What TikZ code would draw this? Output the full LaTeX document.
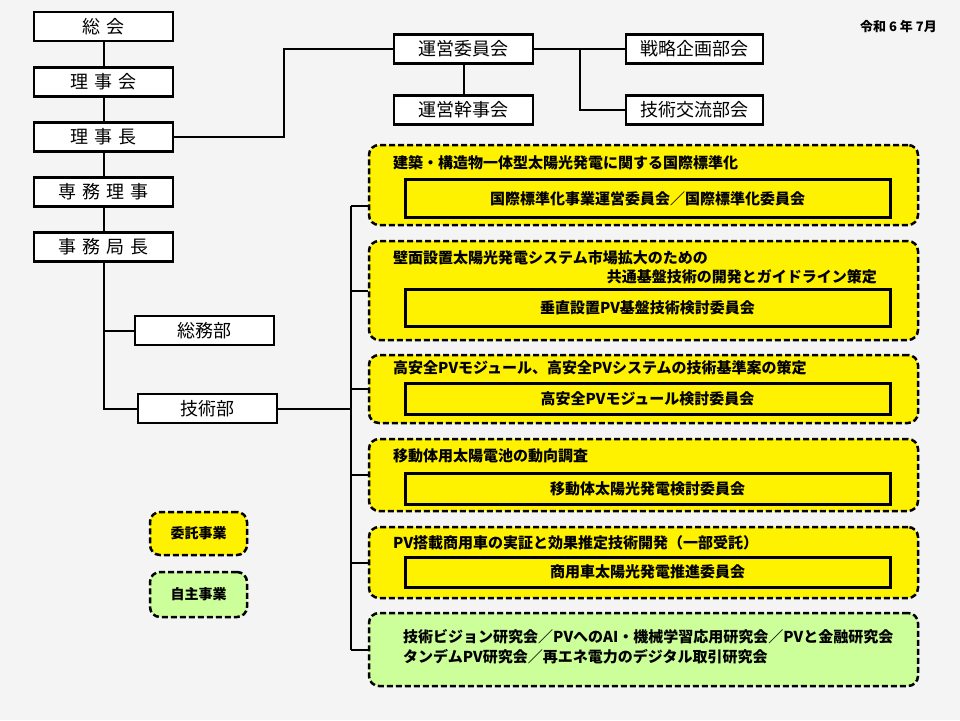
\documentclass[tikz,border=0pt]{standalone}
\usepackage{fontspec}
\setmainfont{Noto Sans CJK JP}
\definecolor{bggray}{RGB}{244,244,244}
\definecolor{selfgreen}{RGB}{204,255,153}
\newcommand{\kgap}{\hspace{6pt}}

\begin{document}
\begin{tikzpicture}[x=1pt, y=-1pt]
    \useasboundingbox (0,0) rectangle (960,720);
    \fill[bggray] (0,0) rectangle (960,720);

    % Define styles
    \tikzstyle{org}=[draw=black, line width=2.5pt, fill=white, minimum width=139pt, minimum height=29pt, inner sep=0pt, font=\fontsize{18}{20}\selectfont]
    \tikzstyle{itaku}=[draw=black, line width=2.5pt, dash pattern=on 6pt off 3pt, rounded corners=10pt, fill=yellow, minimum width=549pt, inner sep=0pt]
    \tikzstyle{jishu}=[itaku, fill=selfgreen]
    \tikzstyle{inbox}=[draw=black, line width=3pt, fill=yellow, minimum width=485pt, inner sep=0pt, font=\fontsize{15}{18}\selectfont\bfseries]
    \tikzstyle{title}=[inner sep=0pt, font=\fontsize{15}{18}\selectfont\bfseries]
    \tikzstyle{link}=[draw=black, line width=2pt]

    % left column
    \node[org] (soukai) at (103.5,26.5) {総\kgap 会};
    \node[org] (rijikai) at (103.5,82) {理\kgap 事\kgap 会};
    \node[org] (rijicho) at (103.5,137) {理\kgap 事\kgap 長};
    \node[org] (senmu) at (103.5,192) {専\kgap 務\kgap 理\kgap 事};
    \node[org] (kyokucho) at (103.5,247) {事\kgap 務\kgap 局\kgap 長};
    \node[org] (somu) at (204.5,330.5) {総務部};
    \node[org] (gijutsu) at (207.5,408.5) {技術部};

    % top committees
    \node[org] (unei) at (463.5,49) {運営委員会};
    \node[org] (kanji) at (463.5,110) {運営幹事会};
    \node[org, minimum width=137pt] (senryaku) at (694.5,49) {戦略企画部会};
    \node[org, minimum width=137pt] (koryu) at (694.5,110) {技術交流部会};

    \node[inner sep=0pt, anchor=east, font=\fontsize{13}{15}\selectfont\bfseries] (date) at (937,27) {令和 6 年 7月};

    % projects
    \node[itaku, minimum height=80pt] (b1) at (643.5,185) {};
    \node[itaku, minimum height=99pt] (b2) at (643.5,290.5) {};
    \node[itaku, minimum height=68pt] (b3) at (643.5,389) {};
    \node[itaku, minimum height=72pt] (b4) at (643.5,475) {};
    \node[itaku, minimum height=71pt] (b5) at (643.5,562.5) {};
    \node[jishu, minimum height=73pt] (b6) at (643.5,649.5) {};

    \node[title, anchor=west] (t1) at (393,163) {建築・構造物一体型太陽光発電に関する国際標準化};
    \node[inbox, minimum height=38pt] (c1) at (647.5,198.5) {国際標準化事業運営委員会／国際標準化委員会};

    \node[title, anchor=west] (t2a) at (393,258) {壁面設置太陽光発電システム市場拡大のための};
    \node[title, anchor=east] (t2b) at (877,277) {共通基盤技術の開発とガイドライン策定};
    \node[inbox, minimum height=37pt] (c2) at (647.5,307.5) {垂直設置PV基盤技術検討委員会};

    \node[title, anchor=west] (t3) at (393,368) {高安全PVモジュール、高安全PVシステムの技術基準案の策定};
    \node[inbox, minimum height=31pt] (c3) at (647.5,398.5) {高安全PVモジュール検討委員会};

    \node[title, anchor=west] (t4) at (393,456) {移動体用太陽電池の動向調査};
    \node[inbox, minimum height=31pt] (c4) at (647.5,488.5) {移動体太陽光発電検討委員会};

    \node[title, anchor=west] (t5) at (393,543) {PV搭載商用車の実証と効果推定技術開発（一部受託）};
    \node[inbox, minimum height=30pt] (c5) at (647.5,572) {商用車太陽光発電推進委員会};

    \node[title, anchor=west] (t6a) at (403,637) {技術ビジョン研究会／PVへのAI・機械学習応用研究会／PVと金融研究会};
    \node[title, anchor=west] (t6b) at (403,657) {タンデムPV研究会／再エネ電力のデジタル取引研究会};

    % legend
    \node[itaku, minimum width=97pt, minimum height=43pt, font=\fontsize{14}{16}\selectfont\bfseries] (lgy) at (198.5,533.5) {委託事業};
    \node[jishu, minimum width=97pt, minimum height=45pt, font=\fontsize{14}{16}\selectfont\bfseries] (lgg) at (198.5,594.5) {自主事業};

    % connectors
    \draw[link] (soukai) -- (rijikai);
    \draw[link] (rijikai) -- (rijicho);
    \draw[link] (rijicho) -- (senmu);
    \draw[link] (senmu) -- (kyokucho);
    \draw[link] (kyokucho.south) |- (somu.west);
    \draw[link] (kyokucho.south) |- (gijutsu.west);
    \draw[link] (rijicho.east) -- ++(110,0) |- (unei.west);
    \draw[link] (unei) -- (kanji);
    \draw[link] (unei.east) -- (senryaku.west);
    \coordinate (br) at (580,49);
    \draw[link] (br) |- (koryu.west);

    \coordinate (ttop) at (351,206);
    \coordinate (tbot) at (351,649.5);
    \draw[link] (ttop) -- (tbot);
    \draw[link] (gijutsu.east) -- (gijutsu.east -| ttop);
    \draw[link] (ttop) -- (ttop -| b1.west);
    \draw[link] (b2.west -| ttop) -- (b2.west);
    \draw[link] (b3.west -| ttop) -- (b3.west);
    \draw[link] (b4.west -| ttop) -- (b4.west);
    \draw[link] (b5.west -| ttop) -- (b5.west);
    \draw[link] (tbot) -- (b6.west);
\end{tikzpicture}
\end{document}
